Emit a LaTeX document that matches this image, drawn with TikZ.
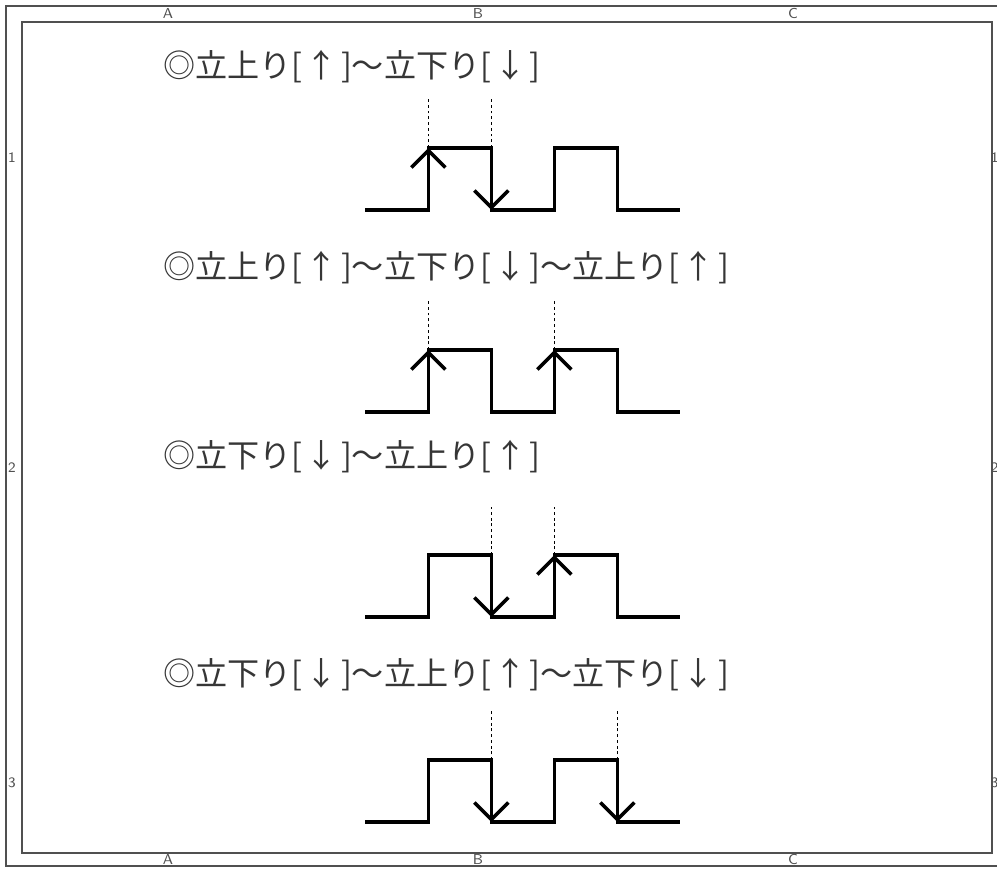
\documentclass[tikz,border=0pt]{standalone}
\usepackage{fontspec}
\newfontfamily\jpfont{Noto Sans CJK JP}
\usetikzlibrary{arrows.meta}
\definecolor{framegray}{HTML}{505050}
\definecolor{textgray}{HTML}{363636}
\newcommand{\gapsp}{\hspace{0.05cm}}
\tikzset{
  signal/.style={line width=1.6pt, line join=miter, black},
  edgearrow/.style={line width=1.6pt, black, -{Straight Barb[length=0.27cm,width=0.54cm]}},
  guide/.style={line width=0.5pt, dash pattern=on 1.3pt off 1.3pt},
  frameline/.style={line width=0.9pt, framegray},
  zonelabel/.style={font=\fontsize{6.5}{7}\selectfont\sffamily, text=framegray, inner sep=0pt},
  caption/.style={font=\jpfont\fontsize{14.5}{17}\selectfont, text=textgray, anchor=west, inner sep=0pt}
}
\begin{document}
\begin{tikzpicture}
	\useasboundingbox (0,0) rectangle (15.825,13.778);
	\fill[white] (0,0) rectangle (15.825,13.778);
	% drawing frame
	\draw[frameline] (0.095,0.032) rectangle (16.0,13.683);
	\draw[frameline] (0.349,0.238) rectangle (15.746,13.429);
	\node[zonelabel] (colAtop) at (2.667,13.556) {A};
	\node[zonelabel] (colBtop) at (7.587,13.556) {B};
	\node[zonelabel] (colCtop) at (12.587,13.556) {C};
	\node[zonelabel] (colAbot) at (2.667,0.135) {A};
	\node[zonelabel] (colBbot) at (7.587,0.135) {B};
	\node[zonelabel] (colCbot) at (12.587,0.135) {C};
	\node[zonelabel] (rowOneL) at (0.19,11.27) {1};
	\node[zonelabel] (rowTwoL) at (0.19,6.349) {2};
	\node[zonelabel] (rowThreeL) at (0.19,1.349) {3};
	\node[zonelabel] (rowOneR) at (15.79,11.27) {1};
	\node[zonelabel] (rowTwoR) at (15.79,6.349) {2};
	\node[zonelabel] (rowThreeR) at (15.79,1.349) {3};

	% rise -> fall
	\node[caption] (capRF) at (2.587,12.714) {◎立上り[\gapsp↑\gapsp]～立下り[\gapsp↓\gapsp]};
	\draw[signal] (5.8,10.444) -- (6.8,10.444) -- (6.8,11.429) -- (7.8,11.429) -- (7.8,10.444)
		-- (8.8,10.444) -- (8.8,11.429) -- (9.8,11.429) -- (9.8,10.444) -- (10.8,10.444);
	\draw[guide] (6.8,11.429) -- (6.8,12.229);
	\draw[guide] (7.8,11.429) -- (7.8,12.229);
	\draw[edgearrow] (6.8,10.444) -- (6.8,11.429);
	\draw[edgearrow] (7.8,11.429) -- (7.8,10.444);

	% rise -> fall -> rise
	\node[caption] (capRFR) at (2.587,9.524) {◎立上り[\gapsp↑\gapsp]～立下り[\gapsp↓\gapsp]～立上り[\gapsp↑\gapsp]};
	\draw[signal] (5.8,7.238) -- (6.8,7.238) -- (6.8,8.222) -- (7.8,8.222) -- (7.8,7.238)
		-- (8.8,7.238) -- (8.8,8.222) -- (9.8,8.222) -- (9.8,7.238) -- (10.8,7.238);
	\draw[guide] (6.8,8.222) -- (6.8,9.016);
	\draw[guide] (8.8,8.222) -- (8.8,9.016);
	\draw[edgearrow] (6.8,7.238) -- (6.8,8.222);
	\draw[edgearrow] (8.8,7.238) -- (8.8,8.222);

	% fall -> rise
	\node[caption] (capFR) at (2.587,6.524) {◎立下り[\gapsp↓\gapsp]～立上り[\gapsp↑\gapsp]};
	\draw[signal] (5.8,3.984) -- (6.8,3.984) -- (6.8,4.968) -- (7.8,4.968) -- (7.8,3.984)
		-- (8.8,3.984) -- (8.8,4.968) -- (9.8,4.968) -- (9.8,3.984) -- (10.8,3.984);
	\draw[guide] (7.8,4.968) -- (7.8,5.730);
	\draw[guide] (8.8,4.968) -- (8.8,5.730);
	\draw[edgearrow] (7.8,4.968) -- (7.8,3.984);
	\draw[edgearrow] (8.8,3.984) -- (8.8,4.968);

	% fall -> rise -> fall
	\node[caption] (capFRF) at (2.587,3.063) {◎立下り[\gapsp↓\gapsp]～立上り[\gapsp↑\gapsp]～立下り[\gapsp↓\gapsp]};
	\draw[signal] (5.8,0.730) -- (6.8,0.730) -- (6.8,1.714) -- (7.8,1.714) -- (7.8,0.730)
		-- (8.8,0.730) -- (8.8,1.714) -- (9.8,1.714) -- (9.8,0.730) -- (10.8,0.730);
	\draw[guide] (7.8,1.714) -- (7.8,2.508);
	\draw[guide] (9.8,1.714) -- (9.8,2.508);
	\draw[edgearrow] (7.8,1.714) -- (7.8,0.730);
	\draw[edgearrow] (9.8,1.714) -- (9.8,0.730);
\end{tikzpicture}
\end{document}
